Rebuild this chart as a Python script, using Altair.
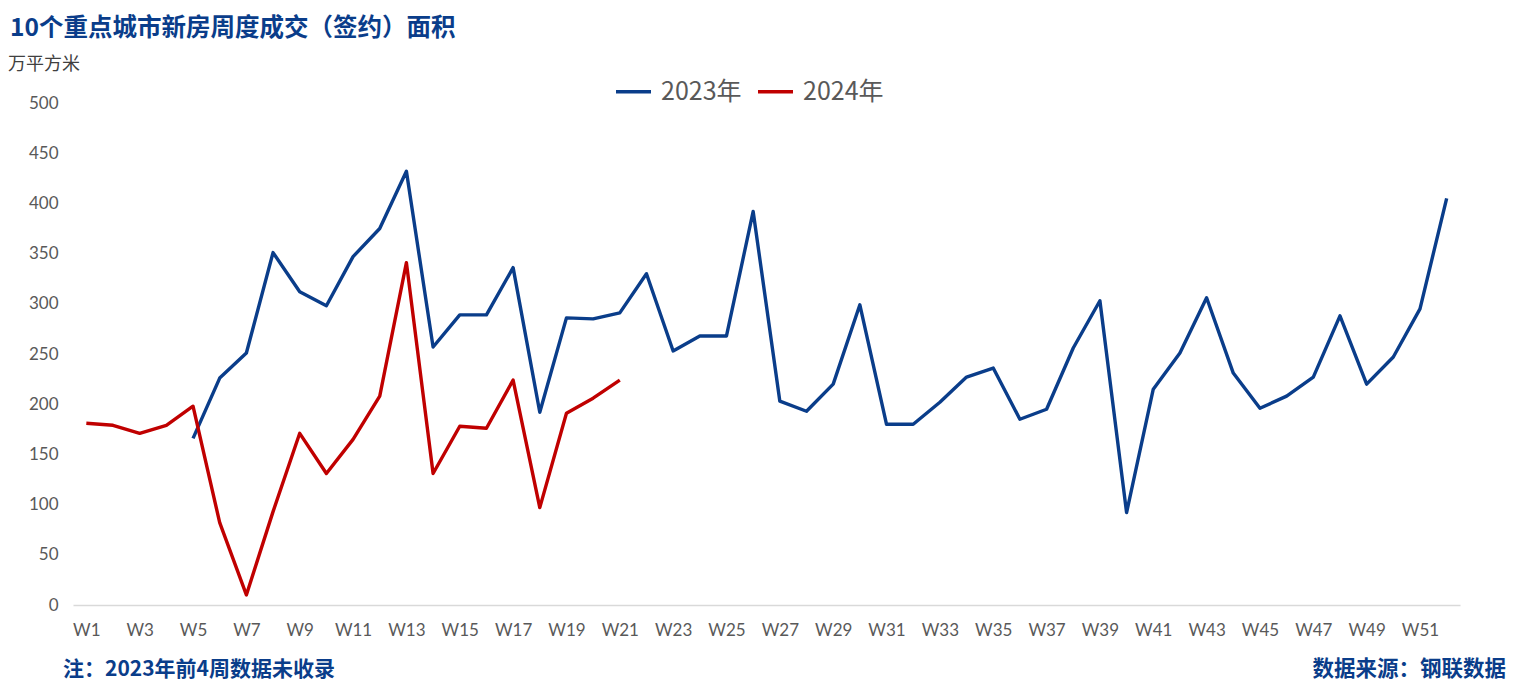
import altair as alt
import pandas as pd

# ---- data ----
weeks = list(range(1, 53))
values_2023 = [None, None, None, None,
               166, 226, 251, 351, 312, 298, 347, 375, 432, 257,
               289, 289, 336, 192, 286, 285, 291, 330, 253, 268,
               268, 392, 203, 193, 220, 299, 180, 180, 202, 227,
               236, 185, 195, 256, 303, 92, 215, 251, 306, 231,
               196, 208, 227, 288, 220, 247, 295, 405]
values_2024 = [181, 179, 171, 179, 198, 82, 10, 93, 171, 131,
               165, 208, 341, 131, 178, 176, 224, 97, 191, 206, 224]
series_names = ["2023年", "2024年"]
series_colors = ["#0A3D8A", "#C00000"]
x_tick_weeks = list(range(1, 53, 2))
y_ticks = list(range(0, 501, 50))

title_text = "10个重点城市新房周度成交（签约）面积"
unit_text = "万平方米"
note_text = "注：2023年前4周数据未收录"
source_text = "数据来源：钢联数据"

rows = []
for w, v in zip(weeks, values_2023):
    if v is not None:
        rows.append({"week": w, "value": v, "series": series_names[0]})
for w, v in zip(weeks, values_2024):
    rows.append({"week": w, "value": v, "series": series_names[1]})
df = pd.DataFrame(rows)

W, H = 1387, 502
CJK = "Noto Sans CJK SC"
LAT = "Lato"

lines = alt.Chart(df).mark_line(strokeWidth=3.4, strokeJoin="round").encode(
    x=alt.X("week:Q",
            scale=alt.Scale(domain=[0.5, 52.5], nice=False, zero=False),
            axis=alt.Axis(values=x_tick_weeks, labelExpr="'W' + datum.value",
                          title=None, grid=False, ticks=False,
                          domainColor="#D9D9D9", domainWidth=1.3,
                          labelPadding=17, labelFlush=False, labelOverlap=False,
                          labelFont=LAT, labelFontSize=17, labelColor="#595959")),
    y=alt.Y("value:Q",
            scale=alt.Scale(domain=[0, 500], nice=False),
            axis=alt.Axis(values=y_ticks, title=None, grid=False, ticks=False,
                          domain=False, labelPadding=15,
                          labelFont=LAT, labelFontSize=17, labelColor="#595959")),
    color=alt.Color("series:N",
                    scale=alt.Scale(domain=series_names, range=series_colors),
                    legend=alt.Legend(title=None, orient="none", direction="horizontal",
                                      legendX=541, legendY=-31, padding=0,
                                      symbolType="stroke", symbolSize=1225,
                                      symbolStrokeWidth=3.5, labelOffset=8,
                                      columnPadding=9,
                                      labelFont=CJK, labelFontSize=25,
                                      labelColor="#595959")),
    detail="series:N",
)

one = pd.DataFrame({"k": [0]})

def txt(s, x, y, size, color, weight="normal", align="left"):
    return alt.Chart(one).mark_text(
        text=s, align=align, baseline="middle", font=CJK, fontSize=size,
        fontWeight=weight, color=color
    ).encode(x=alt.value(x), y=alt.value(y))

title = txt(title_text, -63, -74, 24.5, "#0A3D8A", "bold")
unit = txt(unit_text, -65, -38, 18, "#404040")
note = txt(note_text, -10, 567, 21, "#0A3D8A", "bold")
source = txt(source_text, 1433, 567, 21.5, "#0A3D8A", "bold", align="right")

chart = alt.layer(lines, title, unit, note, source).properties(
    width=W, height=H,
    padding={"left": 65, "top": 95, "right": 48, "bottom": 82},
    autosize=alt.AutoSizeParams(type="none"),
    background="white",
).configure_view(stroke="transparent", strokeWidth=0)

chart.save("out.html", embed_options={"renderer": "svg", "actions": False})
